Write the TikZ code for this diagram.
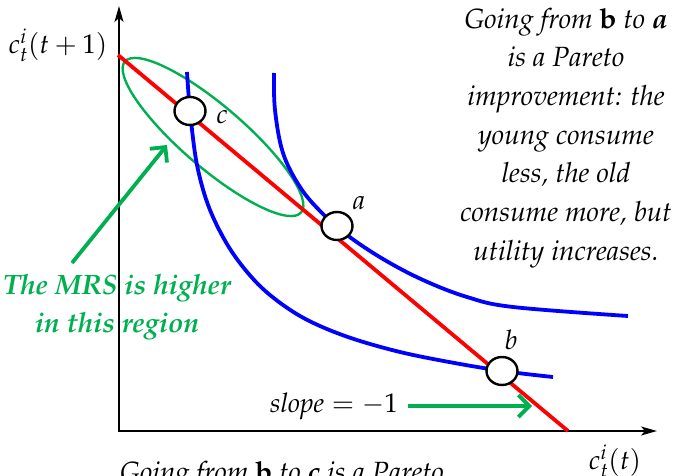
\documentclass[tikz,border=0pt]{standalone}
\usepackage[T1]{fontenc}
\usepackage{mathpazo}
\usetikzlibrary{arrows.meta,shapes.geometric}
\definecolor{pgreen}{RGB}{0,176,80}
\definecolor{pblue}{RGB}{0,0,255}
\definecolor{pred}{RGB}{255,0,0}
\begin{document}
\begin{tikzpicture}[x=1pt,y=-1pt,
  axisline/.style={line width=1.8pt,{Stealth[length=16pt,width=9pt,inset=4pt]}-{Stealth[length=16pt,width=9pt,inset=4pt]}},
  budget/.style={line width=3.8pt,pred},
  indiff/.style={line width=3.8pt,pblue},
  pt/.style={ellipse,draw=black,line width=2.4pt,fill=white,minimum width=31pt,minimum height=28pt,inner sep=0pt},
  gnote/.style={line width=3.8pt,pgreen,-{Straight Barb[length=11pt,width=22pt]}},
  region/.style={line width=2.4pt,pgreen},
  lbl/.style={font=\fontsize{27}{31}\selectfont,inner sep=0pt},
  txt/.style={font=\fontsize{27.8}{38.7}\selectfont\itshape,align=center,inner sep=0pt},
  gtxt/.style={font=\fontsize{28}{38}\selectfont\itshape\bfseries,align=center,inner sep=0pt,text=pgreen}]
\useasboundingbox (0,0) rectangle (681,476);
\clip (0,0) rectangle (681,476);
% axes
\coordinate (ytop) at (119,6);
\coordinate (O) at (119,431);
\coordinate (xend) at (657,431);
\draw[axisline] (ytop) -- (O) -- (xend);
\node[lbl] (ylab) at (58,45) {$c_t^i(t+1)$};
\node[lbl] (xlab) at (615,461) {$c_t^i(t)$};
% green region
\node[region,draw,ellipse,minimum width=232pt,minimum height=62pt,rotate=-40.6] (reg) at (213,137) {};
% budget line
\coordinate (r1) at (118,55);
\coordinate (r2) at (568,431);
\draw[budget] (r1) -- (r2);
% indifference curves
\draw[indiff] plot[smooth,tension=0.55] coordinates {(187,72) (190,111) (197,165) (210,210) (232,252) (262,288) (300,316) (345,336) (400,352) (460,364) (510,372) (553,377)};
\draw[indiff] plot[smooth,tension=0.6] coordinates {(274,73) (275,110) (283,153) (300,187) (321,212) (347,235) (383,259) (423,280) (467,297) (513,307) (628,316)};
% points
\node[pt] (c) at (190,111) {};
\node[pt] (a) at (337,226) {};
\node[pt] (b) at (502,371) {};
\node[lbl] (la) at (359,203) {$a$};
\node[lbl] (lb) at (511,340) {$b$};
\node[lbl] (lc) at (222,117) {$c$};
% MRS note
\node[gtxt] (mrs) at (117,307) {The MRS is higher\\in this region};
\coordinate (mrstail) at (72,263);
\coordinate (mrstip) at (167,145);
\draw[gnote] (mrstail) -- (mrstip);
% slope note
\node[lbl,anchor=east] (slope) at (398,406) {$\mathit{slope}=-1$};
\coordinate (stip) at (532,406);
\draw[gnote] ([xshift=10pt]slope.east) -- (stip);
% right text
\node[txt] (note) at (566,138) {Going from \textbf{\upshape b} to \textbf{a}\\is a Pareto\\improvement: the\\young consume\\less, the old\\consume more, but\\utility increases.};
% bottom text (cut off)
\node[txt] (bottom) at (282,475) {Going from \textbf{\upshape b} to \textbf{c} is a Pareto};
\end{tikzpicture}
\end{document}
